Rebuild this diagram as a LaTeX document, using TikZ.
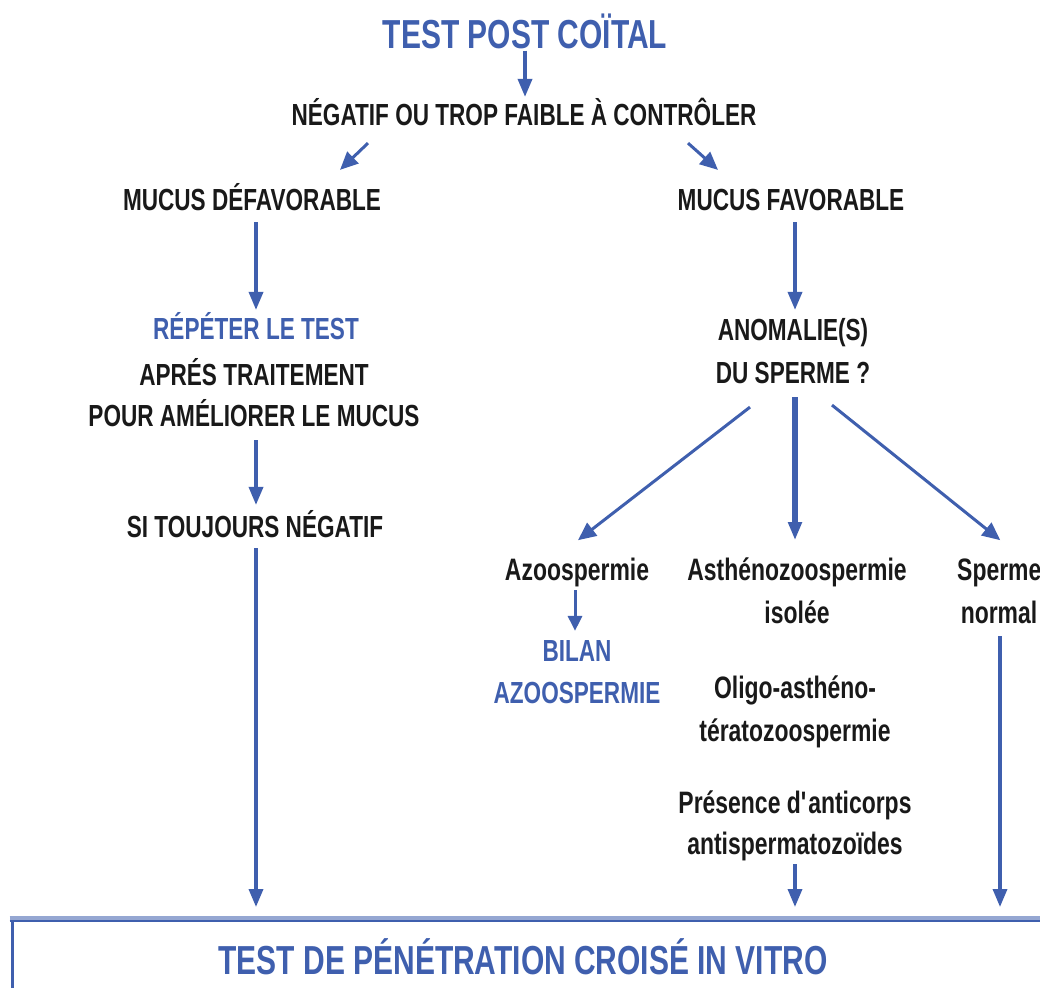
\documentclass[tikz,border=0pt]{standalone}
\usepackage{fontspec}
\setmainfont{Liberation Sans}[FakeStretch=0.74]
\usetikzlibrary{arrows.meta,calc}
\definecolor{bl}{RGB}{63,95,174}
\definecolor{tx}{RGB}{25,25,25}
\begin{document}
\begin{tikzpicture}[x=1pt,y=-1pt,
  every node/.style={inner sep=0pt},
  ttl/.style={font=\fontsize{40.5}{40.5}\bfseries\selectfont, text=bl, text height=29pt, text depth=0pt},
  capt/.style={font=\fontsize{30.5}{30.5}\bfseries\selectfont, text=tx, text height=21.8pt, text depth=0pt},
  capblue/.style={capt, text=bl},
  lowt/.style={font=\fontsize{31}{31}\bfseries\selectfont, text=tx, text height=22.2pt, text depth=0pt},
  arr/.style={draw=bl, line width=3.5pt, -{Triangle[width=14pt,length=18pt]}},
  darr/.style={draw=bl, line width=3pt, -{Triangle[width=16pt,length=18pt]}},
  bigarr/.style={draw=bl, line width=5.5pt, -{Triangle[width=13pt,length=18pt]}},
]
\useasboundingbox (0,0) rectangle (1040,987);
\clip (0,0) rectangle (1040,987);

% texts
\node[ttl] (ttl) at (525,34) {TEST POST COÏTAL};
\node[capt] (neg) at (524,115) {NÉGATIF OU TROP FAIBLE À CONTRÔLER};
\node[capt] (mucd) at (252,200) {MUCUS DÉFAVORABLE};
\node[capt] (mucf) at (791,200) {MUCUS FAVORABLE};
\node[capblue] (rep1) at (256,329) {RÉPÉTER LE TEST};
\node[capt] (rep2) at (254,375) {APRÉS TRAITEMENT};
\node[capt] (rep3) at (254,416) {POUR AMÉLIORER LE MUCUS};
\node[capt] (si) at (255,527) {SI TOUJOURS NÉGATIF};
\node[capt] (anom1) at (793,330) {ANOMALIE(S)};
\node[capt] (anom2) at (793,373) {DU SPERME ?};
\node[lowt] (azo) at (577,569) {Azoospermie};
\node[lowt] (asth1) at (797,569) {Asthénozoospermie};
\node[lowt] (asth2) at (797,612) {isolée};
\node[lowt, anchor=west] (sp1) at (957,569) {Sperme};
\node[lowt] (sp2) at (999,612) {normal};
\node[capblue] (bil1) at (577,651) {BILAN};
\node[capblue] (bil2) at (577,693) {AZOOSPERMIE};
\node[lowt] (oli1) at (795,687) {Oligo-asthéno-};
\node[lowt] (oli2) at (795,730) {tératozoospermie};
\node[lowt] (pre1) at (795,802) {Présence d\textquotesingle anticorps};
\node[lowt] (pre2) at (795,843) {antispermatozoïdes};

% bottom box
\node[draw=bl, line width=3pt, anchor=north west, minimum width=1100pt, minimum height=150pt] (box) at (11,919) {};
\draw[bl!55, line width=6pt] ($(box.north west)+(-1.5,0)$) -- (box.north east);
\draw[bl, line width=1.5pt] ($(box.north west)+(-1.5,2)$) -- ($(box.north east)+(0,2)$);
\node[ttl] (pen) at (523,960) {TEST DE PÉNÉTRATION CROISÉ IN VITRO};

% helper points
\coordinate (siB) at ($(si.south)+(1,0)$);
\coordinate (spB) at ($(sp2.south)+(1,0)$);

% connectors
\draw[arr, shorten <=2pt, shorten >=7pt] (ttl.south) -- (ttl.south |- neg.north);
\draw[darr] ($(neg.south)+(-156,17)$) -- ($(mucd.north)+(88,-19)$);
\draw[darr] ($(neg.south)+(164,17)$) -- ($(mucf.north)+(-73,-19)$);
\draw[arr, shorten <=11pt, shorten >=8pt] ($(mucd.south)+(4,0)$) -- (rep1.north);
\draw[arr, shorten <=13pt, shorten >=11pt] ($(rep3.south)+(2,0)$) -- ($(si.north)+(1,0)$);
\draw[arr, shorten <=10pt, shorten >=12pt] (siB) -- (siB |- box.north);
\draw[arr, shorten <=11pt, shorten >=9pt] ($(mucf.south)+(4,0)$) -- ($(anom1.north)+(2,0)$);
\draw[darr] ($(anom2.south)+(-43,23)$) -- ($(azo.north)+(1,-17.5)$);
\draw[bigarr] ($(anom2.south)+(2,13)$) -- ($(asth1.north)+(-2,-17.5)$);
\draw[darr] ($(anom2.south)+(39,21)$) -- ($(sp1.north)+(1,-17.5)$);
\draw[arr, line width=3pt, -{Triangle[width=14pt,length=15pt]}, shorten <=10pt, shorten >=9pt] ($(azo.south)+(-2,0)$) -- ($(bil1.north)+(-2,0)$);
\draw[arr, shorten <=10pt, shorten >=12pt] (pre2.south) -- (pre2.south |- box.north);
\draw[arr, shorten <=13pt, shorten >=12pt] (spB) -- (spB |- box.north);
\end{tikzpicture}
\end{document}
